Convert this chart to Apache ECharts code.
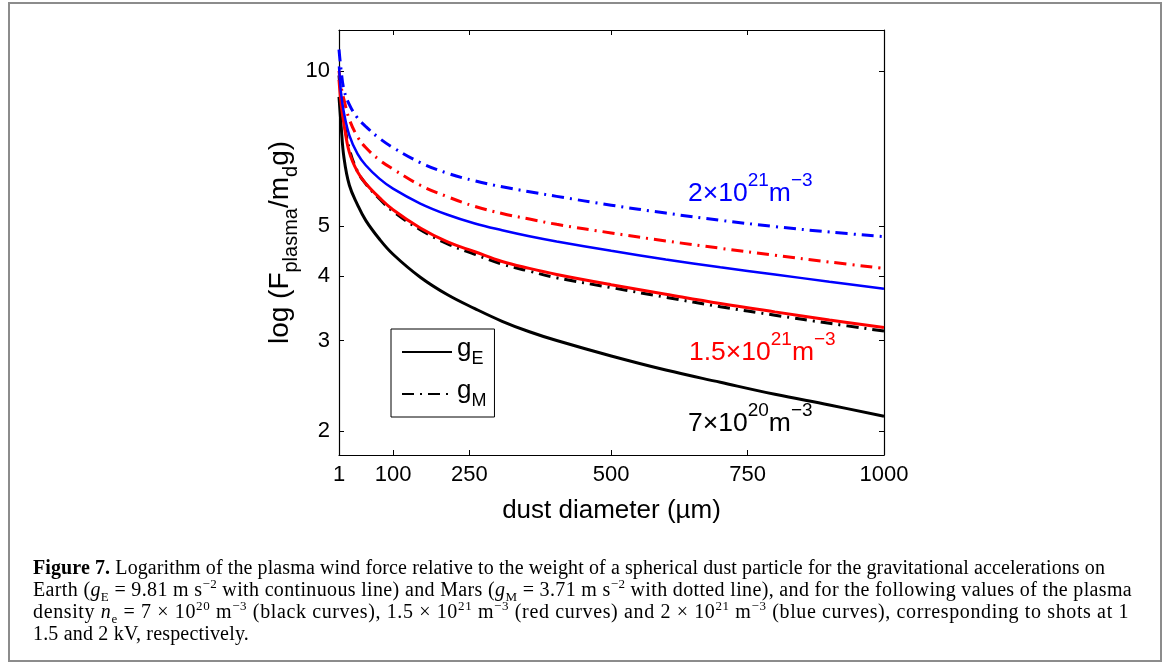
<!DOCTYPE html>
<html>
<head>
<meta charset="utf-8">
<script src="https://cdn.jsdelivr.net/npm/echarts@6/dist/echarts.min.js"></script>
<style>
body { margin: 0; background: #fff; }
#frame { position: absolute; left: 8px; top: 2px; width: 1154px; height: 660px; border: 2px solid #8c8c8c; box-sizing: border-box; }
#main { position: absolute; left: 0; top: 0; width: 1168px; height: 668px; }
#caption { position: absolute; left: 33px; top: 556px; font-family: "Liberation Serif", serif; font-size: 20px; line-height: 22px; color: #000; white-space: nowrap; }
#caption div { height: 22px; }
#caption sub, #caption sup { font-size: 13px; line-height: 0; }
</style>
</head>
<body>
<div id="frame"></div>
<div id="main"></div>
<div id="caption">
  <div><span class="ln"><b>Figure 7.</b> Logarithm of the plasma wind force relative to the weight of a spherical dust particle for the gravitational accelerations on</span></div>
  <div><span class="ln">Earth (<i>g</i><sub>E</sub> = 9.81 m s<sup>−2</sup> with continuous line) and Mars (<i>g</i><sub>M</sub> = 3.71 m s<sup>−2</sup> with dotted line), and for the following values of the plasma</span></div>
  <div><span class="ln">density <i>n</i><sub>e</sub> = 7 × 10<sup>20</sup> m<sup>−3</sup> (black curves), 1.5 × 10<sup>21</sup> m<sup>−3</sup> (red curves) and 2 × 10<sup>21</sup> m<sup>−3</sup> (blue curves), corresponding to shots at 1</span></div>
  <div><span class="ln">1.5 and 2 kV, respectively.</span></div>
</div>
<script>
// dust diameter in micrometres
const diameter = [1, 5, 10, 20, 35, 50, 75, 100, 150, 200, 250, 300, 350, 400, 500, 600, 700, 800, 900, 1000];

// log(F_plasma / m_d g)
const earthLow  = [8.9, 7.8, 6.8, 6.0, 5.5, 5.13, 4.72, 4.41, 3.98, 3.68, 3.46, 3.27, 3.12, 3.00, 2.80, 2.63, 2.49, 2.36, 2.25, 2.14];   // 7e20, gE
const marsLow   = [9.8, 8.8, 8.0, 7.05, 6.38, 6.04, 5.65, 5.34, 4.92, 4.62, 4.41, 4.22, 4.09, 3.97, 3.80, 3.64, 3.49, 3.36, 3.24, 3.13]; // 7e20, gM
const earthMid  = [9.6, 8.6, 7.9, 6.95, 6.37, 6.05, 5.68, 5.38, 4.96, 4.66, 4.46, 4.27, 4.14, 4.03, 3.85, 3.69, 3.54, 3.41, 3.29, 3.18]; // 1.5e21, gE
const marsMid   = [10.0, 9.3, 8.8, 8.05, 7.45, 7.1, 6.72, 6.45, 6.0, 5.7, 5.46, 5.29, 5.16, 5.04, 4.85, 4.68, 4.53, 4.39, 4.26, 4.14]; // 1.5e21, gM
const earthHigh = [10.2, 9.0, 8.3, 7.5, 6.9, 6.56, 6.18, 5.91, 5.53, 5.26, 5.06, 4.91, 4.78, 4.67, 4.48, 4.31, 4.16, 4.03, 3.90, 3.78]; // 2e21, gE
const marsHigh  = [11.0, 10.0, 9.2, 8.6, 8.1, 7.8, 7.4, 7.1, 6.64, 6.33, 6.12, 5.96, 5.83, 5.71, 5.49, 5.30, 5.13, 4.99, 4.87, 4.77];   // 2e21, gM

const xTickValues = [1, 100, 240, 500, 750, 1000];
const xTickLabels = ['1', '100', '250', '500', '750', '1000'];
const yTickValues = [2, 3, 4, 5, 10];

const font = 'Liberation Sans';
const dashDot = [12, 6, 2, 6];

function pairs(ys) {
  return diameter.map((d, i) => [d, ys[i]]);
}

function curve(name, ys, color, dashed, width) {
  return {
    name: name, type: 'line', data: pairs(ys),
    symbol: 'none', smooth: 0.4,
    lineStyle: { color: color, width: width, type: dashed ? dashDot : 'solid', cap: 'butt' },
    itemStyle: { color: color }
  };
}

const axisLine = { show: true, onZero: false, lineStyle: { color: '#000', width: 1.2 } };

function annot(x, y, base, exp, color) {
  return {
    type: 'text', left: x, top: y,
    style: {
      text: '{a|' + base + '}{p|' + exp + '}{a|m}{p|−3}',
      fill: color,
      rich: {
        a: { fontSize: 26.5, fontFamily: font, fill: color, verticalAlign: 'top', padding: [9, 0, 0, 0] },
        p: { fontSize: 19, fontFamily: font, fill: color, verticalAlign: 'top' }
      }
    }
  };
}

const myChart = echarts.init(document.getElementById('main'));
myChart.setOption({
  animation: false,
  backgroundColor: 'transparent',
  grid: { left: 339, right: 284, top: 30, bottom: 213 },
  xAxis: [{
    type: 'value', min: 1, max: 1000, position: 'bottom',
    axisLine: axisLine,
    axisTick: { inside: true, length: 5, customValues: xTickValues, lineStyle: { color: '#000' } },
    axisLabel: {
      customValues: xTickValues, margin: 9, fontSize: 22, fontFamily: font, color: '#000',
      formatter: v => xTickLabels[xTickValues.indexOf(v)] || ''
    },
    splitLine: { show: false },
    name: 'dust diameter (µm)', nameLocation: 'middle', nameGap: 43,
    nameTextStyle: { fontSize: 26, fontFamily: font, color: '#000' }
  }, {
    type: 'value', min: 1, max: 1000, position: 'top',
    axisLine: axisLine,
    axisTick: { inside: true, length: 5, customValues: xTickValues, lineStyle: { color: '#000' } },
    axisLabel: { show: false },
    splitLine: { show: false }
  }],
  yAxis: [{
    type: 'log', logBase: 10, min: 1.8, max: 12, position: 'left',
    axisLine: axisLine,
    axisTick: { inside: true, length: 5, customValues: yTickValues, lineStyle: { color: '#000' } },
    axisLabel: { customValues: yTickValues, margin: 9, fontSize: 22, fontFamily: font, color: '#000' },
    splitLine: { show: false }, minorTick: { show: false },
    name: '{a|log (F}{s|plasma}{a|/m}{s|d}{a|g)}', nameLocation: 'middle', nameGap: 38, nameRotate: 90,
    nameTextStyle: {
      rich: {
        a: { fontSize: 28, fontFamily: font, color: '#000', verticalAlign: 'bottom', padding: [0, 0, 7, 0] },
        s: { fontSize: 20, fontFamily: font, color: '#000', verticalAlign: 'bottom' }
      }
    }
  }, {
    type: 'log', logBase: 10, min: 1.8, max: 12, position: 'right',
    axisLine: axisLine,
    axisTick: { inside: true, length: 5, customValues: yTickValues, lineStyle: { color: '#000' } },
    axisLabel: { show: false },
    splitLine: { show: false }
  }],
  legend: {
    data: ['gE', 'gM'], orient: 'vertical', left: 391, top: 329,
    itemWidth: 50, itemHeight: 14, itemGap: 10,
    padding: [7, 8, 7, 10],
    borderColor: '#000', borderWidth: 1, backgroundColor: '#fff',
    selectedMode: false,
    itemStyle: { opacity: 0 },
    formatter: name => '{g|g}{s|' + name.slice(1) + '}',
    textStyle: {
      rich: {
        g: { fontSize: 26, fontFamily: font, color: '#000', verticalAlign: 'bottom', padding: [0, 0, 6, 0] },
        s: { fontSize: 18, fontFamily: font, color: '#000', verticalAlign: 'bottom' }
      }
    }
  },
  graphic: [
    annot(688, 171, '2×10', '21', '#0000ff'),
    annot(689, 330, '1.5×10', '21', '#ff0000'),
    annot(688, 401, '7×10', '20', '#000000')
  ],
  series: [
    curve('gE', earthLow, '#000', false, 3),
    curve('gM', marsLow, '#000', true, 3),
    curve('1.5e21 gE', earthMid, '#ff0000', false, 3),
    curve('1.5e21 gM', marsMid, '#ff0000', true, 3),
    curve('2e21 gE', earthHigh, '#0000ff', false, 2.5),
    curve('2e21 gM', marsHigh, '#0000ff', true, 3)
  ]
});

// stretch caption lines to the widths in the original
const lineWidths = [1072, 1099, 1096, 216];
document.querySelectorAll('#caption .ln').forEach((el, i) => {
  const w = el.getBoundingClientRect().width;
  const n = el.textContent.length;
  el.style.letterSpacing = ((lineWidths[i] - w) / n).toFixed(3) + 'px';
});
</script>
</body>
</html>
